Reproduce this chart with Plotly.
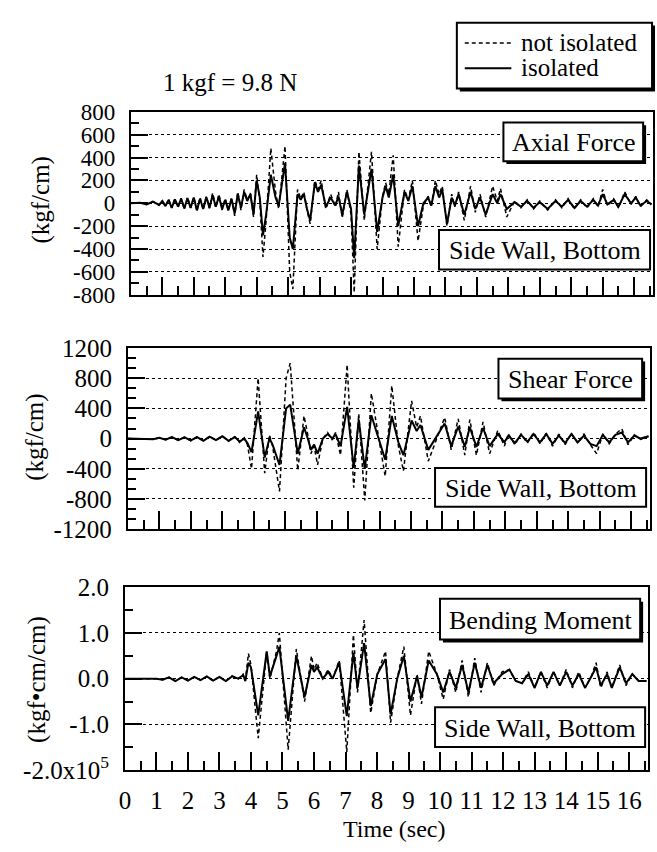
import plotly.graph_objects as go

W, H = 657, 852

# ---------------- data ----------------
# Axial force (kgf/cm)
axial_t = [0.0, 0.3, 0.5, 0.7, 0.9, 1.0, 1.1, 1.2, 1.3, 1.4, 1.5, 1.6, 1.7, 1.8, 1.9,
           2.0, 2.1, 2.2, 2.3, 2.4, 2.5, 2.6, 2.7, 2.8, 2.9, 3.0, 3.1, 3.2, 3.3, 3.4,
           3.5, 3.6, 3.7, 3.8, 3.9, 4.0, 4.1, 4.2, 4.3, 4.45, 4.6, 4.7, 4.9, 5.05, 5.15,
           5.3, 5.4, 5.5, 5.6, 5.7, 5.85, 5.95, 6.05, 6.2, 6.35, 6.5, 6.6, 6.72, 6.87, 7.0,
           7.1, 7.25, 7.42, 7.65, 7.83, 8.0, 8.1, 8.2, 8.34, 8.5, 8.7, 8.82, 8.95, 9.13, 9.3,
           9.45, 9.55, 9.68, 9.8, 9.9, 10.05, 10.2, 10.3, 10.42, 10.6, 10.8, 10.95, 11.1, 11.28, 11.5,
           11.65, 11.75, 11.95, 12.2, 12.4, 12.6, 12.8, 13.0, 13.25, 13.5, 13.7, 13.9, 14.1, 14.3, 14.5,
           14.7, 14.85, 15.0, 15.15, 15.35, 15.5, 15.7, 15.9, 16.05, 16.2, 16.4, 16.55]
axial_iso = [0, 5, -10, 15, -15, 20, -25, 30, -40, 35, -30, 40, -45, 45, -40,
             50, -60, 40, -50, 55, -40, 70, -30, 60, -50, 30, -60, 40, -90, 80,
             -40, 100, 20, 80, -100, 200, 50, -280, -100, 250, 50, -20, 350, -300, -400,
             80, 30, 80, -50, -150, 180, 100, 160, -30, 50, -20, 60, -100, 100, -50,
             -480, 330, -100, 300, -250, 50, 150, 50, 250, -200, 100, 20, 150, -200, 0,
             50, -20, 150, 50, 120, -180, 50, -20, 80, -100, 100, -50, 50, -100, 80,
             0, 80, -50, 10, -30, 20, -40, 10, -50, 20, -30, 30, -40, 20, -30,
             30, -20, 80, -10, 30, -30, 80, 0, 50, -20, 20, -10]
axial_non = [0, 5, -10, 15, -15, 20, -25, 35, -40, 40, -35, 45, -50, 50, -40,
             55, -70, 50, -55, 60, -45, 90, -40, 80, -60, 40, -70, 50, -110, 100,
             -60, 120, 30, 90, -120, 250, 20, -470, -150, 480, 100, -50, 500, -600, -750,
             120, 40, 100, -60, -180, 200, 120, 200, -50, 80, -30, 100, -130, 120, -100,
             -780, 450, -150, 450, -400, 60, 180, 80, 420, -380, 120, 30, 200, -330, -20,
             60, -30, 200, 80, 150, -200, 80, -30, 100, -150, 150, -80, 80, -120, 150,
             20, 130, -120, 20, -40, 30, -50, 20, -60, 30, -40, 40, -50, 30, -40,
             40, -30, 120, -20, 40, -40, 100, -10, 60, -30, 30, -10]

# Shear force (kgf/cm)
shear_t = [0.0, 0.5, 0.8, 1.0, 1.2, 1.4, 1.6, 1.8, 2.0, 2.2, 2.4, 2.6, 2.8, 3.0, 3.2,
           3.4, 3.55, 3.7, 3.8, 3.93, 4.14, 4.35, 4.5, 4.6, 4.82, 5.03, 5.16, 5.4, 5.6, 5.72,
           5.82, 5.92, 6.03, 6.2, 6.35, 6.5, 6.6, 6.76, 6.97, 7.18, 7.34, 7.53, 7.74, 7.97, 8.18,
           8.39, 8.6, 8.76, 9.02, 9.18, 9.3, 9.55, 9.81, 10.07, 10.28, 10.5, 10.71, 10.87, 11.08, 11.29,
           11.5, 11.76, 11.97, 12.1, 12.3, 12.5, 12.7, 12.9, 13.1, 13.3, 13.5, 13.7, 13.9, 14.1, 14.3,
           14.5, 14.7, 14.9, 15.1, 15.3, 15.5, 15.7, 15.9, 16.1, 16.3, 16.55]
shear_iso = [0, 0, -10, 10, -15, 20, -20, 15, -25, 20, -30, 25, -20, 30, -30,
             20, -40, 0, -60, -180, 360, -250, 0, -80, -350, 400, 450, -200, 150, 0,
             -150, -80, -200, 0, 60, 0, 60, -100, 420, -390, 250, -400, 310, 0, -280,
             300, -50, -220, 240, 100, 180, -150, 20, 200, -100, 160, -110, 150, -110, 140,
             -100, 60, -50, 40, -60, 50, -40, 60, -50, 60, -70, 40, -60, 60, -50,
             40, -70, -100, 50, -50, 50, 80, -50, 40, 0, 30]
shear_non = [0, 0, -10, 10, -15, 20, -20, 20, -30, 25, -30, 30, -25, 35, -35,
             25, -50, 10, -80, -400, 800, -460, 50, -100, -700, 800, 1000, -420, 300, 50,
             -200, -100, -350, 0, 80, -20, 80, -220, 980, -650, 330, -820, 600, 20, -500,
             700, -100, -430, 500, 150, 300, -300, 0, 280, -150, 260, -220, 250, -220, 220,
             -200, 110, -100, 60, -80, 60, -60, 80, -70, 70, -100, 60, -80, 70, -60,
             60, -80, -200, 60, -70, 60, 130, -80, 50, -10, 30]

# Bending moment (x10^5 kgf*cm/cm)
bend_t = [0.0, 1.0, 1.2, 1.4, 1.6, 1.8, 2.0, 2.2, 2.4, 2.6, 2.8, 3.0, 3.2, 3.4, 3.6,
          3.75, 3.82, 3.92, 4.0, 4.23, 4.5, 4.6, 4.81, 4.9, 5.18, 5.44, 5.7, 5.92, 6.0, 6.1,
          6.28, 6.45, 6.59, 6.8, 7.04, 7.25, 7.38, 7.59, 7.8, 8.01, 8.27, 8.43, 8.64, 8.85, 9.06,
          9.27, 9.41, 9.64, 9.9, 10.1, 10.3, 10.5, 10.7, 10.9, 11.1, 11.3, 11.5, 11.7, 11.97, 12.2,
          12.4, 12.6, 12.8, 13.0, 13.2, 13.4, 13.6, 13.8, 14.0, 14.2, 14.4, 14.6, 14.8, 14.95, 15.1,
          15.3, 15.45, 15.7, 15.9, 16.1, 16.3, 16.55]
bend_iso = [0, 0, -0.02, 0.03, -0.05, 0.03, -0.04, 0.04, -0.03, 0.05, -0.04, 0.04, -0.05, 0.05, 0.0,
            0.08, -0.05, 0.35, 0.25, -0.8, 0.6, 0.05, 0.5, 0.7, -0.92, 0.5, -0.4, 0.3, 0.15, 0.25,
            0.0, 0.15, 0.0, 0.35, -0.82, 0.57, -0.2, 0.78, -0.6, 0.1, 0.43, -0.78, 0.0, 0.5, -0.5,
            0.05, -0.4, 0.4, 0.1, -0.3, 0.15, -0.2, 0.3, -0.3, 0.35, -0.2, 0.3, -0.1, 0.1, 0.2,
            -0.05, -0.1, 0.1, -0.2, 0.15, -0.15, 0.15, -0.15, 0.15, -0.15, 0.1, -0.2, 0.05, 0.25, -0.15,
            0.1, -0.2, 0.25, -0.1, 0.1, -0.05, -0.05]
bend_non = [0, 0, -0.02, 0.03, -0.05, 0.03, -0.04, 0.04, -0.03, 0.05, -0.05, 0.05, -0.06, 0.06, 0.0,
            0.1, -0.05, 0.55, 0.3, -1.3, 0.6, 0.0, 0.6, 1.0, -1.55, 0.65, -0.5, 0.5, 0.2, 0.35,
            0.0, 0.2, 0.0, 0.4, -1.6, 0.96, -0.3, 1.28, -0.75, 0.1, 0.6, -0.96, 0.0, 0.7, -0.8,
            0.1, -0.55, 0.6, 0.1, -0.45, 0.2, -0.3, 0.4, -0.4, 0.45, -0.3, 0.35, -0.15, 0.15, 0.2,
            -0.05, -0.1, 0.15, -0.2, 0.15, -0.2, 0.15, -0.15, 0.2, -0.2, 0.15, -0.2, 0.05, 0.35, -0.2,
            0.15, -0.2, 0.3, -0.15, 0.1, -0.05, -0.05]

# tick labels
x_tick_vals = list(range(0, 17))
x_tick_text = [str(v) for v in x_tick_vals]
axial_tick_vals = [-800, -600, -400, -200, 0, 200, 400, 600, 800]
axial_tick_text = ["-800", "-600", "-400", "-200", "0", "200", "400", "600", "800"]
shear_tick_vals = [-1200, -800, -400, 0, 400, 800, 1200]
shear_tick_text = ["-1200", "-800", "-400", "0", "400", "800", "1200"]
bend_tick_vals = [-2.0, -1.0, 0.0, 1.0, 2.0]
bend_tick_text = ["-2.0x10<sup>5</sup>", "-1.0", "0.0", "1.0", "2.0"]

series_names = ["not isolated", "isolated"]

# ---------------- figure ----------------
FONT = "Liberation Serif, Times New Roman, serif"
def px(x): return x / W
def py(y): return 1 - y / H

DASH = "4px,3px"
fig = go.Figure()
panels = [
    (axial_t, axial_non, axial_iso, "x", "y"),
    (shear_t, shear_non, shear_iso, "x2", "y2"),
    (bend_t, bend_non, bend_iso, "x3", "y3"),
]
for i, (t, non, iso, xa, ya) in enumerate(panels):
    fig.add_trace(go.Scatter(x=t, y=non, mode="lines", name=series_names[0],
                             line=dict(color="black", width=1.5, dash=DASH),
                             xaxis=xa, yaxis=ya, showlegend=False))
    fig.add_trace(go.Scatter(x=t, y=iso, mode="lines", name=series_names[1],
                             line=dict(color="black", width=2),
                             xaxis=xa, yaxis=ya, showlegend=False))

def xaxis_cfg(dom, anchor, labels):
    return dict(domain=dom, anchor=anchor, range=[0, 16.6],
                tickmode="array", tickvals=x_tick_vals, ticktext=x_tick_text,
                ticks="inside", ticklen=18, tickwidth=2, tickcolor="black",
                minor=dict(tickmode="linear", tick0=0, dtick=0.5, ticks="inside",
                           ticklen=9, tickwidth=2, tickcolor="black", showgrid=False),
                showticklabels=labels, ticklabelstandoff=7,
                tickfont=dict(family=FONT, size=25, color="black"),
                showline=True, linewidth=2, linecolor="black", mirror=True,
                showgrid=False, zeroline=False, fixedrange=True)

def yaxis_cfg(dom, anchor, rng, vals, text, minor_dt, fsize=25):
    return dict(domain=dom, anchor=anchor, range=rng,
                tickmode="array", tickvals=vals, ticktext=text,
                ticks="inside", ticklen=17, tickwidth=2, tickcolor="black",
                minor=dict(tickmode="linear", tick0=0, dtick=minor_dt, ticks="inside",
                           ticklen=8, tickwidth=2, tickcolor="black", showgrid=False),
                ticklabelstandoff=9,
                tickfont=dict(family=FONT, size=fsize, color="black"),
                showline=True, linewidth=2, linecolor="black", mirror=True,
                showgrid=True, gridcolor="black", gridwidth=1, griddash="dot",
                zeroline=False, fixedrange=True)

fig.update_layout(
    width=W, height=H, autosize=False,
    margin=dict(l=0, r=0, t=0, b=0),
    paper_bgcolor="white", plot_bgcolor="white",
    font=dict(family=FONT, size=25, color="black"),
    xaxis=xaxis_cfg([px(126), px(653)], "y", False),
    yaxis=yaxis_cfg([py(291), py(102)], "x", [-800, 800], axial_tick_vals, axial_tick_text, 100, 23),
    xaxis2=xaxis_cfg([px(123), px(650)], "y2", False),
    yaxis2=yaxis_cfg([py(533), py(346)], "x2", [-1200, 1200], shear_tick_vals, shear_tick_text, 400 / 3),
    xaxis3=xaxis_cfg([px(120), px(648)], "y3", True),
    yaxis3=yaxis_cfg([py(782), py(593)], "x3", [-2, 2], bend_tick_vals, bend_tick_text, 0.5),
    showlegend=False,
)

shapes = []
annotations = []

def rect(x0, y0, x1, y1, fill, line_w):
    shapes.append(dict(type="rect", xref="paper", yref="paper", layer="above",
                       x0=px(x0), x1=px(x1), y0=py(y1), y1=py(y0),
                       fillcolor=fill, line=dict(color="black", width=line_w)))

def text_at(text, x, y, anchor="center", angle=0, size=25):
    annotations.append(dict(text=text, xref="paper", yref="paper", x=px(x), y=py(y),
                            xanchor=anchor, yanchor="middle", showarrow=False,
                            textangle=angle, font=dict(family=FONT, size=size, color="black")))

def boxed(text, x0, y0, x1, y1, shadow, size=26):
    if shadow:
        rect(x0 + 3, y0 + 3, x1 + 3, y1 + 3, "black", 0)
    rect(x0, y0, x1, y1, "white", 2)
    text_at(text, (x0 + x1) / 2, (y0 + y1) / 2 + 1, size=size)

boxed("Axial Force", 502, 113, 643, 153, True)
boxed("Side Wall, Bottom", 437, 224, 650, 265, False)
boxed("Shear Force", 497, 357, 642, 398, True)
boxed("Side Wall, Bottom", 433, 470, 646, 510, False)
boxed("Bending Moment", 438, 605, 640, 647, True)
boxed("Side Wall, Bottom", 433, 717, 645, 758, False)

# legend (drawn)
rect(458, 13, 655, 81, "black", 0)
rect(455, 10, 652, 78, "white", 2)
shapes.append(dict(type="line", xref="paper", yref="paper", layer="above",
                   x0=px(463), x1=px(510), y0=py(31), y1=py(31),
                   line=dict(color="black", width=1.5, dash=DASH)))
shapes.append(dict(type="line", xref="paper", yref="paper", layer="above",
                   x0=px(463), x1=px(510), y0=py(57), y1=py(57),
                   line=dict(color="black", width=2)))
text_at(series_names[0], 518, 30, anchor="left")
text_at(series_names[1], 518, 56, anchor="left")

text_at("(kgf/cm)", 35, 193, angle=-90)
text_at("(kgf/cm)", 29, 438, angle=-90)
text_at("(kgf•cm/cm)", 31, 688, angle=-90)
text_at("Time (sec)", 392, 843, size=24)
text_at("1 kgf = 9.8 N", 226, 72)

fig.update_layout(shapes=shapes, annotations=annotations)
fig.write_html("out.html", config={"displayModeBar": False},
               post_script="document.body.style.margin='0px';")
